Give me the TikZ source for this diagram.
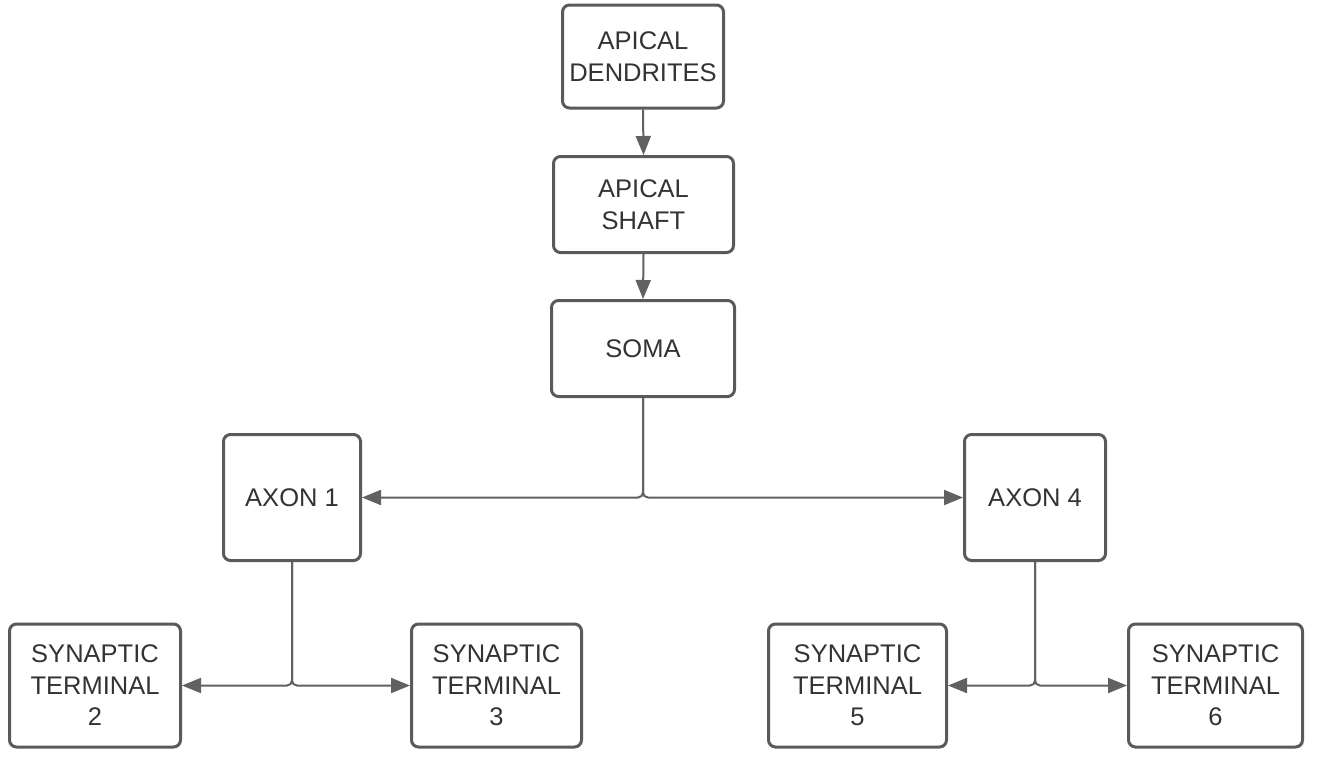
\documentclass[tikz,border=0pt]{standalone}
\usepackage{fontspec}
\setmainfont{Liberation Sans}
\usetikzlibrary{arrows.meta}
\definecolor{boxline}{HTML}{5A5A5A}
\definecolor{wire}{HTML}{616161}
\definecolor{label}{HTML}{333333}
\begin{document}
\begin{tikzpicture}[x=1pt,y=-1pt,
  part/.style={draw=boxline, line width=3pt, rounded corners=7pt, fill=white,
    text=label, align=center, inner sep=0pt,
    font=\fontsize{25.5}{31.5}\selectfont},
  link/.style={draw=wire, line width=2pt, rounded corners=5pt,
    -{Triangle[length=19pt,width=15pt]}}]
\useasboundingbox (0,0) rectangle (1322,756);
\fill[white] (0,0) rectangle (1322,756);

% cell body chain
\node[part, minimum width=161pt, minimum height=103pt] (dend)  at (643,56.5)  {APICAL\\DENDRITES};
\node[part, minimum width=180pt, minimum height=96pt]  (shaft) at (643.5,204.5) {APICAL\\SHAFT};
\node[part, minimum width=183pt, minimum height=96pt]  (soma)  at (643,348.5) {SOMA};

% axons
\node[part, minimum width=137pt, minimum height=126pt] (ax1) at (292,497.5)  {AXON 1};
\node[part, minimum width=141pt, minimum height=126pt] (ax4) at (1035,497.5) {AXON 4};

% synaptic terminals
\node[part, minimum width=171pt, minimum height=123pt] (st2) at (95,685.5)    {SYNAPTIC\\TERMINAL\\2};
\node[part, minimum width=170pt, minimum height=123pt] (st3) at (496.5,685.5)  {SYNAPTIC\\TERMINAL\\3};
\node[part, minimum width=178pt, minimum height=123pt] (st5) at (857.5,685.5)  {SYNAPTIC\\TERMINAL\\5};
\node[part, minimum width=174pt, minimum height=123pt] (st6) at (1215.5,685.5) {SYNAPTIC\\TERMINAL\\6};

% connectors
\draw[link] (dend.south) -- (shaft.north);
\draw[link] (shaft.south) -- (soma.north);
\draw[link] (soma.south) |- (ax1.east);
\draw[link] (soma.south) |- (ax4.west);
\draw[link] (ax1.south) |- (st2.east);
\draw[link] (ax1.south) |- (st3.west);
\draw[link] (ax4.south) |- (st5.east);
\draw[link] (ax4.south) |- (st6.west);
\end{tikzpicture}
\end{document}
